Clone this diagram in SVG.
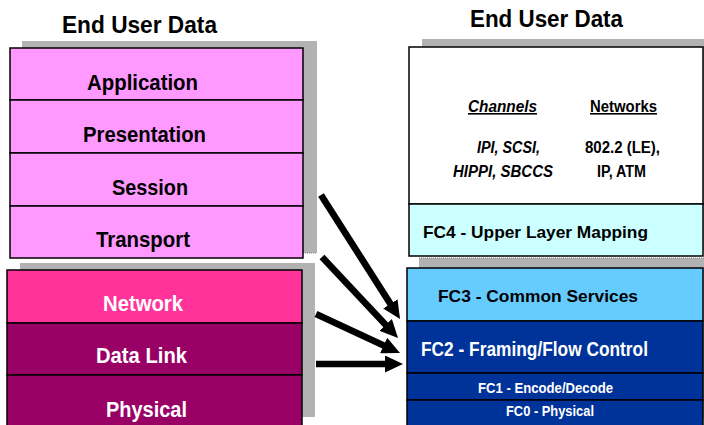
<svg xmlns="http://www.w3.org/2000/svg" width="704" height="425" viewBox="0 0 704 425">
<style>
  text { font-family: "Liberation Sans", Arial, sans-serif; font-weight: bold; }
  .title { font-size: 23px; fill: #000; }
  .lbl { font-size: 22px; }
  .dk { fill: #000; }
  .wt { fill: #fff; }
  .small { font-size: 16px; fill: #000; }
  .it { font-style: italic; }
  .ul { text-decoration: underline; }
  .fc { font-size: 16.5px; }
  .fc2 { font-size: 20px; }
  .fc1 { font-size: 14px; }
  .layer { stroke: #000; stroke-width: 1.5; }
  .shadow { fill: #B2B2B2; }
  .dot { stroke: #808080; stroke-width: 1; stroke-dasharray: 1 1; }
  .arrow { stroke: #000; stroke-width: 6.7; fill: none; }
</style>
<defs>
  <marker id="head" markerUnits="userSpaceOnUse" markerWidth="18" markerHeight="17" viewBox="0 0 18 17" refX="6" refY="8.5" orient="auto">
    <path d="M0,0 L18,8.5 L0,17 Z" fill="#000"/>
  </marker>
</defs>
<rect width="704" height="425" fill="#fff"/>

<g id="title-left"><text class="title" x="62" y="33" textLength="155" lengthAdjust="spacingAndGlyphs">End User Data</text></g>
<g id="title-right"><text class="title" x="470" y="27" textLength="153" lengthAdjust="spacingAndGlyphs">End User Data</text></g>

<!-- Left upper stack -->
<g id="osi-upper-shadow">
  <rect class="shadow" x="22" y="41" width="295" height="212"/>
  <line class="dot" x1="303" y1="253" x2="317" y2="253"/>
</g>
<g id="application">
  <rect class="layer" x="10" y="48" width="293" height="52" fill="#FF99FF"/>
  <text class="lbl dk" x="87" y="90" textLength="111" lengthAdjust="spacingAndGlyphs">Application</text>
</g>
<g id="presentation">
  <rect class="layer" x="10" y="100" width="293" height="53" fill="#FF99FF"/>
  <text class="lbl dk" x="83" y="142" textLength="123" lengthAdjust="spacingAndGlyphs">Presentation</text>
</g>
<g id="session">
  <rect class="layer" x="10" y="153" width="293" height="53" fill="#FF99FF"/>
  <text class="lbl dk" x="112" y="195" textLength="76" lengthAdjust="spacingAndGlyphs">Session</text>
</g>
<g id="transport">
  <rect class="layer" x="10" y="206" width="293" height="52" fill="#FF99FF"/>
  <text class="lbl dk" x="96" y="247" textLength="94" lengthAdjust="spacingAndGlyphs">Transport</text>
</g>

<!-- Left lower stack -->
<g id="osi-lower-shadow">
  <rect class="shadow" x="20" y="263" width="295" height="154"/>
</g>
<g id="network">
  <rect class="layer" x="7" y="270" width="295" height="53" fill="#FF3399"/>
  <text class="lbl wt" x="103" y="311" textLength="80" lengthAdjust="spacingAndGlyphs">Network</text>
</g>
<g id="data-link">
  <rect class="layer" x="7" y="323" width="295" height="52" fill="#990066"/>
  <text class="lbl wt" x="96" y="363" textLength="91" lengthAdjust="spacingAndGlyphs">Data Link</text>
</g>
<g id="physical">
  <rect class="layer" x="7" y="375" width="295" height="53" fill="#990066"/>
  <text class="lbl wt" x="106" y="417" textLength="81" lengthAdjust="spacingAndGlyphs">Physical</text>
</g>

<!-- Right upper stack -->
<g id="fc-upper-shadow">
  <rect class="shadow" x="422" y="39" width="300" height="212"/>
</g>
<g id="upper-protocols">
  <rect class="layer" x="409" y="47" width="294" height="157" fill="#FFFFFF"/>
  <text class="small it ul" x="468" y="112" textLength="69" lengthAdjust="spacingAndGlyphs">Channels</text>
  <text class="small ul" x="590" y="112" textLength="67" lengthAdjust="spacingAndGlyphs">Networks</text>
  <text class="small it" x="477" y="153" textLength="63" lengthAdjust="spacingAndGlyphs">IPI, SCSI,</text>
  <text class="small it" x="453" y="177" textLength="100" lengthAdjust="spacingAndGlyphs">HIPPI, SBCCS</text>
  <text class="small" x="585" y="153" textLength="75" lengthAdjust="spacingAndGlyphs">802.2 (LE),</text>
  <text class="small" x="597" y="177" textLength="49" lengthAdjust="spacingAndGlyphs">IP, ATM</text>
</g>
<g id="fc4">
  <rect class="layer" x="409" y="204" width="294" height="52" fill="#CCFFFF"/>
  <text class="fc dk" x="423" y="238" textLength="225" lengthAdjust="spacingAndGlyphs">FC4 - Upper Layer Mapping</text>
</g>

<!-- Right lower stack -->
<g id="fc-lower-shadow">
  <rect class="shadow" x="419" y="258" width="300" height="160"/>
  <line class="dot" x1="419" y1="258" x2="704" y2="258"/>
</g>
<g id="fc3">
  <rect class="layer" x="407" y="268" width="296" height="53" fill="#66CCFF"/>
  <text class="fc dk" x="438" y="302" textLength="200" lengthAdjust="spacingAndGlyphs">FC3 - Common Services</text>
</g>
<g id="fc2">
  <rect class="layer" x="407" y="321" width="296" height="52" fill="#003399"/>
  <text class="fc2 wt" x="421" y="356" textLength="227" lengthAdjust="spacingAndGlyphs">FC2 - Framing/Flow Control</text>
</g>
<g id="fc1">
  <rect class="layer" x="407" y="373" width="296" height="27" fill="#003399"/>
  <text class="fc1 wt" x="478" y="393" textLength="135" lengthAdjust="spacingAndGlyphs">FC1 - Encode/Decode</text>
</g>
<g id="fc0">
  <rect class="layer" x="407" y="400" width="296" height="28" fill="#003399"/>
  <text class="fc1 wt" x="506" y="416" textLength="88" lengthAdjust="spacingAndGlyphs">FC0 - Physical</text>
</g>

<!-- Connectors -->
<g id="connectors">
  <line class="arrow" x1="321" y1="195" x2="393.6" y2="308.9" marker-end="url(#head)"/>
  <line class="arrow" x1="322" y1="257" x2="389.8" y2="329.3" marker-end="url(#head)"/>
  <line class="arrow" x1="316" y1="314" x2="389.1" y2="348" marker-end="url(#head)"/>
  <line class="arrow" x1="316" y1="364" x2="391" y2="364" marker-end="url(#head)"/>
</g>
</svg>
